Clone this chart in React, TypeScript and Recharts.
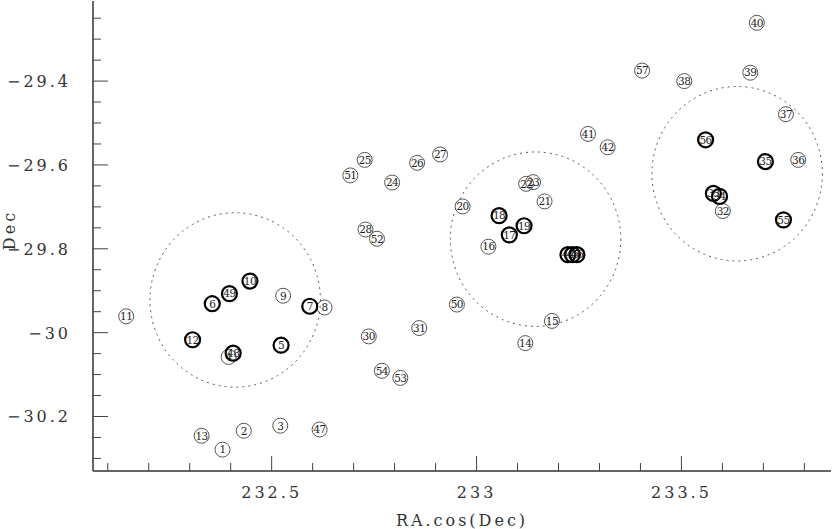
import React from 'react';
import { ScatterChart, Scatter, XAxis, YAxis } from 'recharts';

// galaxy ids, positions (RA.cos(Dec), Dec)
const ids = [1, 2, 3, 4, 5, 6, 7, 8, 9, 10, 11, 12, 13, 14, 15, 16, 17, 18, 19, 20, 21, 22, 23, 24, 25, 26, 27, 28, 30, 31, 32, 33, 34, 35, 36, 37, 38, 39, 40, 41, 42, 44, 45, 46, 47, 48, 49, 50, 51, 52, 53, 54, 55, 56, 57];
const ra = [232.38, 232.432, 232.521, 232.395, 232.523, 232.355, 232.593, 232.629, 232.528, 232.447, 232.145, 232.307, 232.329, 233.119, 233.184, 233.029, 233.08, 233.055, 233.116, 232.966, 233.166, 233.121, 233.138, 232.794, 232.727, 232.855, 232.911, 232.729, 232.737, 232.86, 233.601, 233.578, 233.593, 233.705, 233.785, 233.755, 233.507, 233.668, 233.684, 233.272, 233.32, 233.223, 233.234, 233.245, 232.617, 232.406, 232.397, 232.952, 232.692, 232.757, 232.814, 232.769, 233.749, 233.559, 233.404];
const dec = [-30.279, -30.234, -30.222, -30.058, -30.03, -29.931, -29.937, -29.94, -29.912, -29.877, -29.961, -30.017, -30.246, -30.025, -29.972, -29.795, -29.767, -29.721, -29.745, -29.699, -29.687, -29.645, -29.641, -29.642, -29.588, -29.595, -29.575, -29.754, -30.009, -29.989, -29.71, -29.668, -29.675, -29.592, -29.588, -29.479, -29.4, -29.38, -29.261, -29.526, -29.558, -29.814, -29.814, -29.814, -30.231, -30.049, -29.907, -29.933, -29.625, -29.776, -30.108, -30.091, -29.731, -29.54, -29.375];
const boldIds = [5, 6, 7, 10, 12, 17, 18, 19, 33, 34, 35, 44, 45, 46, 48, 49, 55, 56];

// dashed group regions
const regionRa = [232.411, 233.144, 233.636];
const regionDec = [-29.922, -29.777, -29.621];
const regionRadius = [0.208, 0.208, 0.208];

const xTicks = [232.1, 232.2, 232.3, 232.4, 232.5, 232.6, 232.7, 232.8, 232.9, 233, 233.1, 233.2, 233.3, 233.4, 233.5, 233.6, 233.7, 233.8];
const xMajor = [232.5, 233, 233.5];
const yTicks = [-30.3, -30.25, -30.2, -30.15, -30.1, -30.05, -30, -29.95, -29.9, -29.85, -29.8, -29.75, -29.7, -29.65, -29.6, -29.55, -29.5, -29.45, -29.4, -29.35, -29.3, -29.25];
const yMajor = [-30.2, -30, -29.8, -29.6, -29.4];

const xDomain = [232.064, 233.865];
const yDomain = [-30.33, -29.209];

const W = 832;
const H = 529;
const LEFT = 93;
const BOTTOM = 58;
const PLOT_W = W - LEFT - 1;
const PLOT_H = H - BOTTOM - 1;

const FONT = '"DejaVu Serif", serif';
const AXIS = '#444';

const points = ids.map((id, i) => ({ id, x: ra[i], y: dec[i], bold: boldIds.includes(id) }));
const thin = points.filter((p) => !p.bold);
const bold = points.filter((p) => p.bold);
const regions = regionRa.map((x, i) => ({ x, y: regionDec[i], r: regionRadius[i] }));

const isMajor = (v: number, majors: number[]) => majors.some((m) => Math.abs(m - v) < 1e-6);
const fmt = (v: number) => String(v).replace('-', '\u2212');

const tickText = { fontFamily: FONT, fontSize: 16, letterSpacing: 3, fill: '#333' };

const BottomTick = ({ x, y, payload }: any) => {
  const major = isMajor(payload.value, xMajor);
  return (
    <g>
      <line x1={x} y1={y} x2={x} y2={y - (major ? 15 : 8)} stroke={AXIS} />
      {major && (
        <text x={x} y={y + 27} textAnchor="middle" {...tickText}>
          {fmt(payload.value)}
        </text>
      )}
    </g>
  );
};

const TopTick = ({ x, y, payload }: any) => {
  const major = isMajor(payload.value, xMajor);
  return <line x1={x} y1={y} x2={x} y2={y + (major ? 15 : 8)} stroke={AXIS} />;
};

const LeftTick = ({ x, y, payload }: any) => {
  const major = isMajor(payload.value, yMajor);
  return (
    <g>
      <line x1={x} y1={y} x2={x + (major ? 15 : 8)} y2={y} stroke={AXIS} />
      {major && (
        <text x={x - 22} y={y + 6} textAnchor="end" {...tickText}>
          {fmt(payload.value)}
        </text>
      )}
    </g>
  );
};

const RightTick = ({ x, y, payload }: any) => {
  const major = isMajor(payload.value, yMajor);
  return <line x1={x} y1={y} x2={x - (major ? 15 : 8)} y2={y} stroke={AXIS} />;
};

const Marker = ({ cx, cy, payload }: any) => (
  <g>
    <circle cx={cx} cy={cy} r={7.5} fill="none" stroke={payload.bold ? '#000' : '#555'} strokeWidth={payload.bold ? 2.2 : 1} />
    <text x={cx} y={cy + 3.8} textAnchor="middle" fontFamily={FONT} fontSize={10.5} letterSpacing={-0.5} fill="#222">
      {payload.id}
    </text>
  </g>
);

const Region = ({ cx, cy, payload }: any) => {
  const rx = (payload.r * PLOT_W) / (xDomain[1] - xDomain[0]);
  const ry = (payload.r * PLOT_H) / (yDomain[1] - yDomain[0]);
  return <ellipse cx={cx} cy={cy} rx={rx} ry={ry} fill="none" stroke="#555" strokeDasharray="2 4" />;
};

const XTitle = () => (
  <text x={LEFT + PLOT_W / 2} y={H - 3} textAnchor="middle" {...tickText}>
    RA.cos(Dec)
  </text>
);

const YTitle = () => (
  <text x={15} y={230} transform="rotate(-90 15 230)" textAnchor="middle" {...tickText}>
    Dec
  </text>
);

export default function App() {
  return (
    <div style={{ position: 'absolute', left: 0, top: 0, width: W, height: H, background: '#fff' }}>
      <ScatterChart width={W} height={H} margin={{ top: 1, right: 1, bottom: 0, left: 0 }}>
        <XAxis
          xAxisId="bottom"
          dataKey="x"
          type="number"
          domain={xDomain}
          ticks={xTicks}
          interval={0}
          height={BOTTOM}
          tickSize={0}
          tickMargin={0}
          tickLine={false}
          tick={BottomTick}
          stroke="#333"
          strokeWidth={1.5}
          label={<XTitle />}
        />
        <XAxis
          xAxisId="top"
          orientation="top"
          dataKey="x"
          type="number"
          domain={xDomain}
          ticks={xTicks}
          interval={0}
          height={0}
          tickSize={0}
          tickMargin={0}
          tickLine={false}
          tick={TopTick}
          stroke="#333"
          strokeWidth={1.5}
        />
        <YAxis
          yAxisId="left"
          dataKey="y"
          type="number"
          domain={yDomain}
          ticks={yTicks}
          interval={0}
          width={LEFT}
          tickSize={0}
          tickMargin={0}
          tickLine={false}
          tick={LeftTick}
          stroke="#333"
          strokeWidth={1.5}
          label={<YTitle />}
        />
        <YAxis
          yAxisId="right"
          orientation="right"
          dataKey="y"
          type="number"
          domain={yDomain}
          ticks={yTicks}
          interval={0}
          width={0}
          tickSize={0}
          tickMargin={0}
          tickLine={false}
          tick={RightTick}
          stroke="#333"
          strokeWidth={1.5}
        />
        <Scatter xAxisId="bottom" yAxisId="left" data={regions} shape={Region} isAnimationActive={false} />
        <Scatter xAxisId="bottom" yAxisId="left" data={thin} shape={Marker} isAnimationActive={false} />
        <Scatter xAxisId="bottom" yAxisId="left" data={bold} shape={Marker} isAnimationActive={false} />
      </ScatterChart>
    </div>
  );
}
